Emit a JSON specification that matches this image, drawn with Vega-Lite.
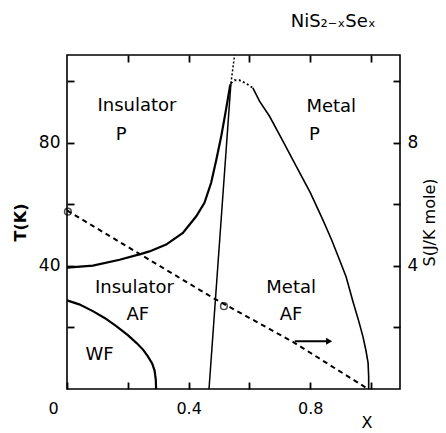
{
  "$schema": "https://vega.github.io/schema/vega-lite/v6.json",
  "width": 333,
  "height": 334,
  "autosize": "none",
  "padding": {"left": 67, "top": 55, "right": 46, "bottom": 44},
  "background": "white",
  "config": {
    "view": {"stroke": "black", "strokeWidth": 1.6},
    "font": "DejaVu Sans",
    "axis": {"grid": false, "domain": false, "labelColor": "black", "titleColor": "black"}
  },
  "title": {"text": "NiS₂₋ₓSeₓ", "anchor": "end", "dx": -62, "offset": 21, "fontSize": 18, "fontWeight": "normal", "font": "DejaVu Sans", "color": "black"},
  "datasets": {
    "tn": [
      {"i": 0, "x": 0, "T": 39.4}, {"i": 1, "x": 0.085, "T": 40.1}, {"i": 2, "x": 0.173, "T": 42},
      {"i": 3, "x": 0.244, "T": 43.9}, {"i": 4, "x": 0.271, "T": 44.7}, {"i": 5, "x": 0.326, "T": 46.9},
      {"i": 6, "x": 0.381, "T": 50.7}, {"i": 7, "x": 0.425, "T": 56.1}, {"i": 8, "x": 0.452, "T": 60.5},
      {"i": 9, "x": 0.474, "T": 67}, {"i": 10, "x": 0.491, "T": 74.5}, {"i": 11, "x": 0.507, "T": 82},
      {"i": 12, "x": 0.521, "T": 89.7}, {"i": 13, "x": 0.537, "T": 98.9}
    ],
    "mi": [{"i": 0, "x": 0.467, "T": 0}, {"i": 1, "x": 0.539, "T": 99.3}],
    "midot": [{"i": 0, "x": 0.539, "T": 99.3}, {"i": 1, "x": 0.551, "T": 108.4}],
    "metaldot": [
      {"i": 0, "x": 0.539, "T": 99.3}, {"i": 1, "x": 0.551, "T": 100.3}, {"i": 2, "x": 0.567, "T": 100.3},
      {"i": 3, "x": 0.59, "T": 99.2}, {"i": 4, "x": 0.611, "T": 97.8}
    ],
    "metal": [
      {"i": 0, "x": 0.611, "T": 97.8}, {"i": 1, "x": 0.633, "T": 93.5}, {"i": 2, "x": 0.666, "T": 88.6},
      {"i": 3, "x": 0.71, "T": 80.5}, {"i": 4, "x": 0.754, "T": 72.3}, {"i": 5, "x": 0.8, "T": 63.8},
      {"i": 6, "x": 0.841, "T": 55}, {"i": 7, "x": 0.87, "T": 48.5}, {"i": 8, "x": 0.896, "T": 42},
      {"i": 9, "x": 0.918, "T": 36.4}, {"i": 10, "x": 0.94, "T": 28.5}, {"i": 11, "x": 0.96, "T": 21.8},
      {"i": 12, "x": 0.973, "T": 17.1}, {"i": 13, "x": 0.983, "T": 12.5}, {"i": 14, "x": 0.99, "T": 8.5},
      {"i": 15, "x": 0.992, "T": 4}, {"i": 16, "x": 0.992, "T": 0}
    ],
    "wf": [
      {"i": 0, "x": 0, "T": 28.8}, {"i": 1, "x": 0.04, "T": 27.5}, {"i": 2, "x": 0.085, "T": 25.3},
      {"i": 3, "x": 0.125, "T": 23}, {"i": 4, "x": 0.162, "T": 20.4}, {"i": 5, "x": 0.2, "T": 17.5},
      {"i": 6, "x": 0.228, "T": 15}, {"i": 7, "x": 0.25, "T": 12.8}, {"i": 8, "x": 0.266, "T": 10.6},
      {"i": 9, "x": 0.28, "T": 8.3}, {"i": 10, "x": 0.288, "T": 6}, {"i": 11, "x": 0.292, "T": 3},
      {"i": 12, "x": 0.293, "T": 0}
    ],
    "labels": [
      {"x": 0.23, "T": 92, "text": "Insulator"},
      {"x": 0.178, "T": 82.6, "text": "P"},
      {"x": 0.869, "T": 91.6, "text": "Metal"},
      {"x": 0.814, "T": 82.6, "text": "P"},
      {"x": 0.222, "T": 32.9, "text": "Insulator"},
      {"x": 0.233, "T": 24.2, "text": "AF"},
      {"x": 0.107, "T": 11.2, "text": "WF"},
      {"x": 0.737, "T": 32.9, "text": "Metal"},
      {"x": 0.737, "T": 24.2, "text": "AF"}
    ],
    "entropy": [
      {"i": 0, "x": 0, "S": 5.8}, {"i": 1, "x": 0.48, "S": 2.96}, {"i": 2, "x": 0.743, "S": 1.53}, {"i": 3, "x": 0.985, "S": 0.03}
    ],
    "circles": [{"x": 0.003, "S": 5.76}, {"x": 0.516, "S": 2.69}],
    "arrow": [{"i": 0, "x": 0.749, "S": 1.55}, {"i": 1, "x": 0.862, "S": 1.55}],
    "arrowhead": [{"x": 0.862, "S": 1.55}]
  },
  "layer": [
    {
      "encoding": {
        "x": {"field": "x", "type": "quantitative", "scale": {"domain": [0, 1.095], "nice": false, "zero": false},
          "axis": {"orient": "bottom", "values": [0.2, 0.4, 0.6, 0.8, 1.0, 0], "tickSize": 7, "offset": -7, "tickColor": "black", "tickWidth": 1.8,
            "labelExpr": "datum.value == 0 ? '0' : (datum.value == 0.4 || datum.value == 0.8 ? datum.label : '')",
            "labelOffset": {"condition": {"test": "datum.value == 0", "value": -19}, "value": 0},
            "labelFontSize": 16, "labelPadding": 11,
            "title": "X", "titleFontSize": 16, "titleFontWeight": "normal", "titleAnchor": "end", "titlePadding": -2, "titleX": 305}},
        "y": {"field": "T", "type": "quantitative", "scale": {"domain": [0, 108.5], "nice": false},
          "axis": {"orient": "left", "values": [20, 40, 60, 80, 100], "tickSize": 7, "offset": -7, "tickColor": "black", "tickWidth": 1.8,
            "labelExpr": "datum.value == 40 || datum.value == 80 ? datum.label : ''",
            "labelFontSize": 17, "labelPadding": 7,
            "title": "T(K)", "titleFontSize": 16, "titleFontWeight": "bold", "titlePadding": 10}}
      },
      "layer": [
        {"data": {"name": "tn"}, "mark": {"type": "line", "color": "black", "strokeWidth": 2.2}, "encoding": {"order": {"field": "i"}}},
        {"data": {"name": "mi"}, "mark": {"type": "line", "color": "black", "strokeWidth": 1.5}, "encoding": {"order": {"field": "i"}}},
        {"data": {"name": "midot"}, "mark": {"type": "line", "color": "black", "strokeWidth": 1.5, "strokeDash": [2, 2]}, "encoding": {"order": {"field": "i"}}},
        {"data": {"name": "metaldot"}, "mark": {"type": "line", "color": "black", "strokeWidth": 1.8, "strokeDash": [2, 2.5]}, "encoding": {"order": {"field": "i"}}},
        {"data": {"name": "metal"}, "mark": {"type": "line", "color": "black", "strokeWidth": 1.6}, "encoding": {"order": {"field": "i"}}},
        {"data": {"name": "wf"}, "mark": {"type": "line", "color": "black", "strokeWidth": 2.2}, "encoding": {"order": {"field": "i"}}},
        {"data": {"name": "labels"}, "mark": {"type": "text", "color": "black", "fontSize": 18, "font": "DejaVu Sans", "baseline": "middle", "align": "center"}, "encoding": {"text": {"field": "text"}}}
      ]
    },
    {
      "encoding": {
        "x": {"field": "x", "type": "quantitative", "scale": {"domain": [0, 1.095], "nice": false, "zero": false},
          "axis": {"orient": "top", "values": [0.2, 0.4, 0.6, 0.8, 1.0], "tickSize": 7, "offset": -7, "tickColor": "black", "tickWidth": 1.8, "labels": false, "title": null}},
        "y": {"field": "S", "type": "quantitative", "scale": {"domain": [0, 10.85], "nice": false},
          "axis": {"orient": "right", "values": [2, 4, 6, 8, 10], "tickSize": 7, "offset": -7, "tickColor": "black", "tickWidth": 1.8,
            "labelExpr": "datum.value == 4 || datum.value == 8 ? datum.label : ''",
            "labelFontSize": 17, "labelPadding": 7,
            "title": "S(J/K mole)", "titleFontSize": 16, "titleFontWeight": "normal", "titleAngle": 270, "titlePadding": 20}}
      },
      "layer": [
        {"data": {"name": "entropy"}, "mark": {"type": "line", "color": "black", "strokeWidth": 2, "strokeDash": [5, 4]}, "encoding": {"order": {"field": "i"}}},
        {"data": {"name": "circles"}, "mark": {"type": "point", "shape": "circle", "filled": false, "color": "black", "size": 45, "strokeWidth": 1.5}},
        {"data": {"name": "arrow"}, "mark": {"type": "line", "color": "black", "strokeWidth": 2}, "encoding": {"order": {"field": "i"}}},
        {"data": {"name": "arrowhead"}, "mark": {"type": "point", "shape": "triangle-right", "filled": true, "color": "black", "size": 50, "opacity": 1}}
      ]
    }
  ],
  "resolve": {"scale": {"y": "independent"}, "axis": {"x": "independent", "y": "independent"}}
}
